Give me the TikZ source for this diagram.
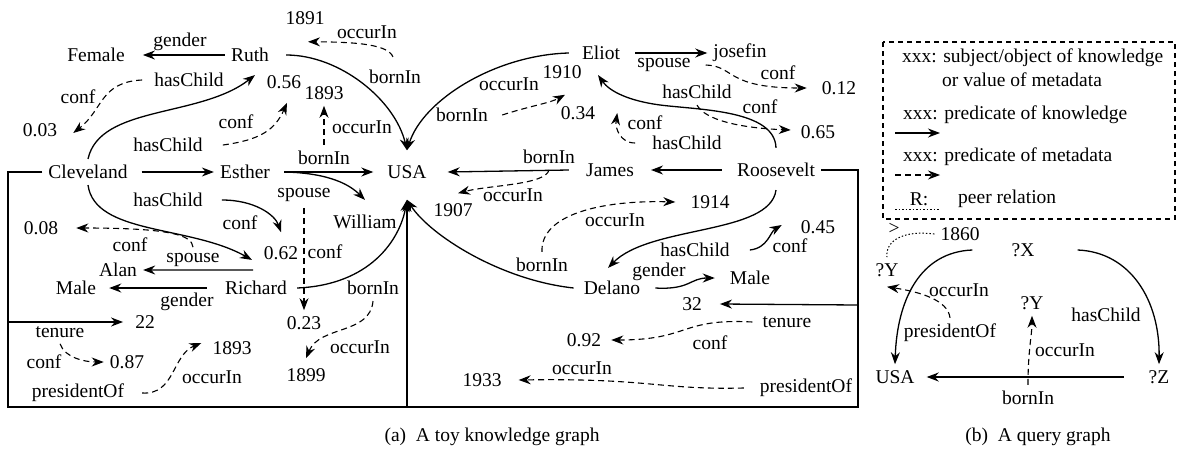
\documentclass[tikz,border=0pt]{standalone}
\usepackage{fontspec}
\setmainfont{Liberation Serif}
\usetikzlibrary{arrows.meta}
\begin{document}
\begin{tikzpicture}[x=1pt,y=-1pt,
  every node/.style={font=\fontsize{19.5}{22}\selectfont, inner sep=6pt},
  arr/.style={line width=1.3pt, -{Stealth[length=12pt,width=9pt]}},
  darr/.style={arr, line width=1.1pt, dash pattern=on 6pt off 4pt},
  frame/.style={line width=1.3pt},
  dotline/.style={line width=1pt, dash pattern=on 1.5pt off 2pt},
  legbox/.style={line width=1.1pt, dash pattern=on 5pt off 4pt}]
\useasboundingbox (0,0) rectangle (1184,453);

% ---------- left part nodes ----------
\node (female) at (96,55) {Female};
\node (ruth) at (250,55) {Ruth};
\node (l_gender1) at (180,42) {gender};
\node (y1891) at (305,18) {1891};
\node (l_occ1) at (367,32) {occurIn};
\node (l_born1) at (395,77) {bornIn};
\node (v056) at (284,82) {0.56};
\node (l_hc1) at (189,80) {hasChild};
\node (l_conf1) at (78,97) {conf};
\node (v003) at (40,130) {0.03};
\node (l_conf2) at (236,122) {conf};
\node (l_hc2) at (168,145) {hasChild};
\node (y1893a) at (324,93) {1893};
\node (l_occ2) at (362,127) {occurIn};
\node (l_born2) at (324,158) {bornIn};
\node (esther) at (245,172) {Esther};
\node (clev) at (88,172) {Cleveland};
\node (usa) at (407,172) {USA};
\node (william) at (365,222) {William};
\node (l_sp1) at (304,195) {spouse};
\node (l_conf3) at (325,252) {conf};
\node (v023) at (304,323) {0.23};
\node (l_hc3) at (168,200) {hasChild};
\node (l_conf4) at (240,223) {conf};
\node (v062) at (281,253) {0.62};
\node (v008) at (41,228) {0.08};
\node (l_conf5) at (130,245) {conf};
\node (l_sp2) at (193,260) {spouse};
\node (alan) at (118,270) {Alan};
\node (male1) at (76,288) {Male};
\node (richard) at (256,288) {Richard};
\node (l_gender2) at (187,302) {gender};
\node (l_born3) at (373,288) {bornIn};
\node (l_occ3) at (360,347) {occurIn};
\node (y1899) at (306,375) {1899};
\node (v22) at (145,322) {22};
\node (l_ten1) at (60,332) {tenure};
\node (l_conf6) at (44,362) {conf};
\node (v087) at (127,362) {0.87};
\node (y1893b) at (232,348) {1893};
\node (l_pres1) at (78,393) {presidentOf};
\node (l_occ4) at (212,377) {occurIn};

% ---------- right part nodes ----------
\node (v32) at (692,304) {32};
\node (l_ten2) at (787,322) {tenure};
\node (l_conf7) at (710,343) {conf};
\node (v092) at (584,340) {0.92};
\node (l_occ5) at (582,368) {occurIn};
\node (l_pres2) at (806,388) {presidentOf};
\node (y1933) at (482,380) {1933};
\node (eliot) at (601,53) {Eliot};
\node (josefin) at (740,53) {josefin};
\node (l_sp3) at (664,65) {spouse};
\node (l_conf8) at (778,73) {conf};
\node (v012) at (839,88) {0.12};
\node (y1910) at (562,72) {1910};
\node (l_occ6) at (509,84) {occurIn};
\node (l_born4) at (462,115) {bornIn};
\node (v034) at (578,113) {0.34};
\node (l_hc4) at (697,92) {hasChild};
\node (l_conf9) at (760,107) {conf};
\node (v065) at (818,132) {0.65};
\node (l_conf10) at (645,123) {conf};
\node (l_hc5) at (687,143) {hasChild};
\node (james) at (610,170) {James};
\node (roos) at (776,170) {Roosevelt};
\node (l_born5) at (549,157) {bornIn};
\node (l_occ7) at (513,195) {occurIn};
\node (y1907) at (453,210) {1907};
\node (y1914) at (710,202) {1914};
\node (l_occ8) at (615,220) {occurIn};
\node (l_born6) at (542,265) {bornIn};
\node (l_hc6) at (695,250) {hasChild};
\node (l_conf11) at (790,246) {conf};
\node (v045) at (818,227) {0.45};
\node (delano) at (612,288) {Delano};
\node (l_gender3) at (659,272) {gender};
\node (male2) at (750,278) {Male};

% ---------- frame coordinates ----------
\coordinate (tl) at (8,172);
\coordinate (bl) at (8,407);
\coordinate (bm) at (407,407);
\coordinate (br) at (858,407);
\coordinate (tr) at (858,170);
\coordinate (lm) at (8,322);
\coordinate (rm) at (858,305);

% ---------- solid connectors ----------
\draw[frame] (clev.west) -- (tl) -- (bl) -- (br) -- (tr) -- (roos.east);
\draw[arr] (bm) -- ([yshift=-15pt]usa.south);
\draw[arr] (lm) -- ([xshift=-6pt]v22.west);
\draw[arr] (rm) -- ([xshift=12pt]v32.east);

\draw[arr] (ruth.west) -- ([xshift=12pt]female.east);
\draw[arr] ([xshift=8pt]clev.east) -- (esther.west);
\draw[arr] ([xshift=8pt]esther.east) -- ([xshift=-8pt]usa.west);
\draw[arr] ([xshift=8pt]esther.east) .. controls (330,173) and (350,185) .. ([yshift=9pt]william.north);
\draw[arr] ([xshift=11pt]ruth.east) .. controls (340,55) and (395,100) .. ([yshift=9pt]usa.north);
\draw[arr] ([xshift=-7pt]eliot.west) .. controls (495,55) and (423,100) .. ([yshift=9pt]usa.north);
\draw[arr] (clev.north) .. controls (100,105) and (200,118) .. ([xshift=5pt,yshift=-7pt]ruth.south);
\draw[arr] (clev.south) .. controls (95,235) and (190,225) .. ([xshift=-4pt,yshift=15pt]richard.north);
\draw[arr] ([xshift=13pt]l_hc3.east) .. controls (255,200) and (275,215) .. ([yshift=8pt]v062.north);
\draw[arr] ([xshift=-3pt,yshift=5pt]richard.north) -- (alan.east);
\draw[arr] ([xshift=-12pt]richard.west) -- ([xshift=7pt]male1.east);
\draw[arr] ([xshift=4pt]richard.east) .. controls (370,285) and (400,240) .. ([yshift=-15pt]usa.south);
\draw[arr] ([xshift=-4pt]delano.west) .. controls (500,280) and (430,235) .. ([yshift=-15pt]usa.south);

\draw[arr] ([xshift=9pt]eliot.east) -- (josefin.west);
\draw[arr] ([yshift=9pt]roos.north) .. controls (775,110) and (700,110) .. (660,105)
           .. controls (630,101) and (610,92) .. ([xshift=-3pt,yshift=-9pt]eliot.south);
\draw[arr] ([xshift=-9pt]roos.west) -- ([xshift=11pt]james.east);
\draw[arr] ([xshift=-11pt]james.west) -- ([xshift=15pt]usa.east);
\draw[arr] ([yshift=-7pt]roos.south) .. controls (770,235) and (650,225) .. ([xshift=-4pt,yshift=7pt]delano.north);
\draw[arr] ([xshift=14pt]l_hc6.east) .. controls (768,248) and (770,232) .. ([xshift=-13pt,yshift=2pt]v045.west);
\draw[arr] ([xshift=9pt]delano.east) .. controls (690,290) and (690,278) .. ([xshift=-9pt]male2.west);

% ---------- dashed connectors ----------
\draw[darr] ([xshift=-2pt,yshift=7pt]l_born1.north) .. controls (388,45) and (360,42) .. ([xshift=3pt,yshift=-11pt]y1891.south);
\draw[darr] ([xshift=-6pt]l_hc1.west) .. controls (100,82) and (103,110) .. ([xshift=10pt,yshift=-3pt]v003.east);
\draw[darr] ([xshift=14pt]l_hc2.east) .. controls (260,140) and (275,130) .. ([xshift=3pt,yshift=-8pt]v056.south);
\draw[darr] (l_born2.north) -- (y1893a.south);
\draw[darr] ([xshift=8pt]l_born4.east) .. controls (530,106) and (550,103) .. ([xshift=3pt,yshift=-10pt]y1910.south);
\draw[darr] ([xshift=9pt]l_sp3.east) .. controls (735,66) and (725,88) .. ([xshift=-9pt]v012.west);
\draw[darr] (l_hc4.south) .. controls (705,120) and (740,128) .. ([xshift=-4pt,yshift=2pt]v065.west);
\draw[darr] ([xshift=-11pt]l_hc5.west) .. controls (620,143) and (615,128) .. ([xshift=16pt]v034.east);
\draw[darr] (l_born5.south) .. controls (545,185) and (490,185) .. ([xshift=5pt,yshift=4pt]y1907.north);
\draw[darr] (l_born6.north) .. controls (540,215) and (600,200) .. ([xshift=-9pt]y1914.west);
\draw[darr] (l_sp1.south) -- (v023.north);
\draw[darr] (l_sp2.north) .. controls (192,235) and (170,228) .. ([xshift=12pt]v008.east);
\draw[darr] (l_born3.south) .. controls (370,335) and (320,325) .. ([yshift=4pt]y1899.north);
\draw[darr] (l_ten1.south) .. controls (65,358) and (85,362) .. (v087.west);
\draw[darr] ([xshift=12pt]l_pres1.east) .. controls (175,395) and (172,355) .. ([xshift=-5pt,yshift=5pt]y1893b.west);
\draw[darr] ([xshift=-4pt]l_ten2.west) .. controls (680,318) and (690,340) .. ([xshift=4pt]v092.east);
\draw[darr] ([xshift=-10pt]l_pres2.west) .. controls (660,390) and (650,378) .. ([xshift=11pt]y1933.east);

% ---------- legend ----------
\draw[legbox] (883,42) rectangle (1175,219);
\node[anchor=west] (lg1) at (896,58) {xxx: subject/object of knowledge};
\node[anchor=west] (lg2) at (936,80) {or value of metadata};
\node[anchor=west] (lg3) at (897,115) {xxx: predicate of knowledge};
\node[anchor=west] (lg4) at (897,157) {xxx: predicate of metadata};
\node (lg5) at (919,199) {R:};
\node[anchor=west] (lg6) at (952,199) {peer relation};
\coordinate (la1) at (895,133); \coordinate (la2) at (940,133);
\coordinate (lb1) at (895,175); \coordinate (lb2) at (940,175);
\coordinate (lc1) at (895,209); \coordinate (lc2) at (940,209);
\draw[arr] (la1) -- (la2);
\draw[darr] (lb1) -- (lb2);
\draw[dotline] (lc1) -- (lc2);

% ---------- query graph ----------
\node (y1860) at (960,234) {1860};
\node (gt) at (894,229) {>};
\node (qx) at (1023,250) {?X};
\node (qy1) at (887,270) {?Y};
\node (q_occ1) at (959,290) {occurIn};
\node (q_pres) at (950,333) {presidentOf};
\node (qy2) at (1032,303) {?Y};
\node (q_hc) at (1106,315) {hasChild};
\node (q_occ2) at (1065,350) {occurIn};
\node (qusa) at (895,377) {USA};
\node (qz) at (1159,377) {?Z};
\node (q_born) at (1028,398) {bornIn};

\draw[arr] ([xshift=-33pt]qx.west) .. controls (920,252) and (897,300) .. (qusa.north);
\draw[arr] ([xshift=37pt]qx.east) .. controls (1130,252) and (1160,300) .. (qz.north);
\draw[arr] ([xshift=-19pt]qz.west) -- ([xshift=6pt]qusa.east);
\draw[darr] (q_pres.north) .. controls (948,300) and (920,292) .. ([yshift=-4pt]qy1.south);
\draw[darr] (q_born.north) .. controls (1028,350) and (1032,335) .. (qy2.south);
\draw[dotline] (y1860.west) .. controls (905,230) and (885,240) .. (qy1.north);

% ---------- captions ----------
\node (capa) at (492,437) {(a)\enspace A toy knowledge graph};
\node (capb) at (1038,437) {(b)\enspace A query graph};
\end{tikzpicture}
\end{document}
